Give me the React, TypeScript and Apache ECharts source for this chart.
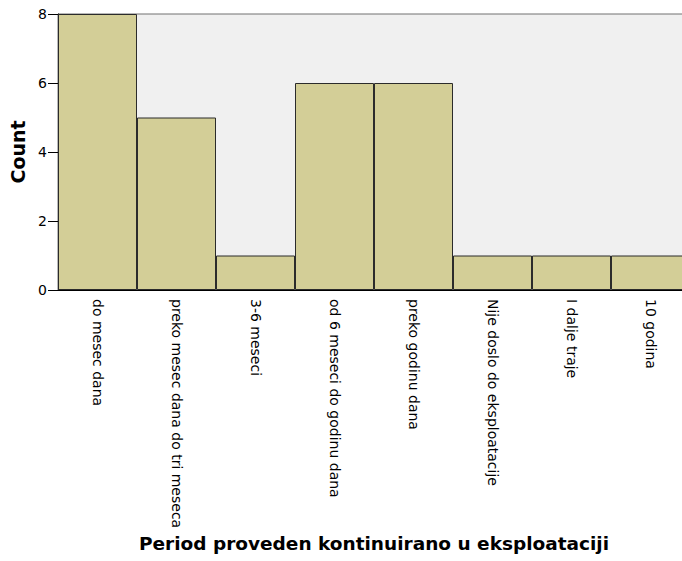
import React, { useEffect, useRef } from "react";
import * as echarts from "echarts";

const categories = [
  "do mesec dana",
  "preko mesec dana do tri meseca",
  "3-6 meseci",
  "od 6 meseci do godinu dana",
  "preko godinu dana",
  "Nije doslo do eksploatacije",
  "I dalje traje",
  "10 godina",
];
const counts = [8, 5, 1, 6, 6, 1, 1, 1];
const yTicks = { min: 0, max: 8, interval: 2 };

export default function App() {
  const ref = useRef<HTMLDivElement>(null);
  useEffect(() => {
    if (!ref.current) return;
    const chart = echarts.init(ref.current, null, { renderer: "svg" });
    const font = "'DejaVu Sans', sans-serif";
    chart.setOption({
      animation: false,
      backgroundColor: "#ffffff",
      grid: {
        left: 58,
        right: 10,
        top: 14,
        bottom: 271,
        show: true,
        backgroundColor: "#f0f0f0",
        borderColor: "#707070",
        borderWidth: 1,
      },
      xAxis: {
        type: "category",
        data: categories,
        name: "Period proveden kontinuirano u eksploataciji",
        nameLocation: "middle",
        nameGap: 244,
        nameTextStyle: {
          fontFamily: font,
          fontWeight: "bold",
          fontSize: 18.5,
          color: "#000",
          verticalAlign: "top",
        },
        axisLine: { lineStyle: { color: "#000", width: 1 } },
        axisTick: {
          alignWithLabel: true,
          length: 8,
          lineStyle: { color: "#000" },
        },
        axisLabel: {
          rotate: -90,
          interval: 0,
          margin: 9,
          fontFamily: font,
          fontSize: 14,
          color: "#000",
        },
      },
      yAxis: {
        type: "value",
        min: yTicks.min,
        max: yTicks.max,
        interval: yTicks.interval,
        name: "Count",
        nameLocation: "middle",
        nameGap: 25,
        nameRotate: 90,
        nameTextStyle: {
          fontFamily: font,
          fontWeight: "bold",
          fontSize: 19,
          color: "#000",
        },
        splitLine: { show: false },
        axisLine: { show: true, lineStyle: { color: "#000", width: 1 } },
        axisTick: { show: true, length: 10, lineStyle: { color: "#000" } },
        axisLabel: {
          margin: 11,
          fontFamily: font,
          fontSize: 14,
          color: "#000",
        },
      },
      series: [
        {
          type: "bar",
          data: counts,
          barCategoryGap: "0%",
          itemStyle: {
            color: "#d3ce97",
            borderColor: "#2b2b2b",
            borderWidth: 1,
          },
        },
      ],
    });
    return () => chart.dispose();
  }, []);
  return (
    <div
      style={{
        position: "absolute",
        left: 0,
        top: 0,
        width: 682,
        height: 561,
        overflow: "hidden",
      }}
    >
      <div ref={ref} style={{ width: 700, height: 561 }} />
    </div>
  );
}
